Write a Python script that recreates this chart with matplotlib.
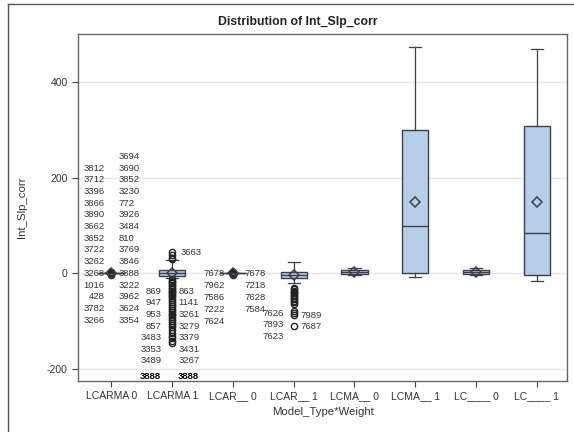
import matplotlib
matplotlib.use("Agg")
import matplotlib.pyplot as plt
from matplotlib.lines import Line2D

plt.rcParams["font.family"] = ["Liberation Sans", "DejaVu Sans"]

# ---- data -------------------------------------------------------------
categories = ["LCARMA 0", "LCARMA 1", "LCAR__ 0", "LCAR__ 1",
              "LCMA__ 0", "LCMA__ 1", "LC____ 0", "LC____ 1"]
q1 =     [0, -6, 0, -10, -2, 0, -2, -4]
median = [0, 0, 0, -4, 3, 98, 3, 84]
q3 =     [0, 8, 0, 2, 8, 300, 8, 309]
whislo = [0, -10, 0, -21, -4, -8, -4, -15]
whishi = [0, 27, 0, 23, 12, 474, 12, 468]
means =  [0, 0, 0, -4, 3, 150, 3, 150]
fliers = [
    [-3, -2, -1, 0, 1, 2, 3],
    [44, 38, 33, 30,
     -12, -15, -18, -21, -24, -27, -30, -33, -36, -39, -42, -45, -48,
     -52, -56, -60, -64, -68, -72, -76, -80, -84, -88, -92, -96,
     -100, -104, -108, -112, -118, -124, -130, -136, -142, -146],
    [-3, -2, -1, 0, 1, 2, 3],
    [-30, -33, -36, -39, -42, -45, -48, -51, -54, -57, -60, -63,
     -78, -82, -86, -110],
    [], [], [], [],
]

# outlier id labels
lcarma0_left = ["3812", "3712", "3396", "3866", "3890", "3662", "3652",
                "3722", "3262", "3268", "1016", "428", "3782", "3266"]
lcarma0_right = ["3694", "3690", "3852", "3230", "772", "3926", "3484",
                 "810", "3769", "3846", "3888", "3222", "3962", "3624",
                 "3354"]
lcarma1_top = ["3663"]
lcarma1_left = ["869", "947", "953", "857", "3483", "3353", "3489"]
lcarma1_right = ["863", "1141", "3261", "3279", "3379", "3431", "3267"]
lcarma1_bottom = ["3888", "3888"]
lcar0_left = ["7678", "7962", "7586", "7222", "7624"]
lcar0_right = ["7678", "7218", "7628", "7584"]
lcar1_left = ["7626", "7893", "7623"]
lcar1_right = ["7989", "7687"]

# ---- figure -----------------------------------------------------------
fig = plt.figure(figsize=(5.74, 4.32), dpi=100)
ax = fig.add_axes([0.136, 0.118, 0.852, 0.803])

stats = []
for i, c in enumerate(categories):
    stats.append(dict(label=c, q1=q1[i], med=median[i], q3=q3[i],
                      whislo=whislo[i], whishi=whishi[i], mean=means[i],
                      fliers=fliers[i]))

edge = "#3a3f4a"
ax.bxp(stats, positions=range(len(categories)), widths=0.43,
       patch_artist=True, showmeans=True, showfliers=True,
       boxprops=dict(facecolor="#b8cfe9", edgecolor=edge, linewidth=1.0),
       medianprops=dict(color=edge, linewidth=1.0),
       whiskerprops=dict(color=edge, linewidth=0.9),
       capprops=dict(color=edge, linewidth=0.9),
       meanprops=dict(marker="D", markerfacecolor="none",
                      markeredgecolor=edge, markersize=5.5,
                      markeredgewidth=1.1),
       flierprops=dict(marker="o", markerfacecolor="none",
                       markeredgecolor="#222222", markersize=4.5,
                       markeredgewidth=1.0),
       capwidths=0.2)

ax.set_xlim(-0.55, 7.5)
ax.set_ylim(-225, 500)
ax.set_yticks([-200, 0, 200, 400])
ax.set_yticklabels(["-200", "0", "200", "400"])
ax.yaxis.grid(True, color="#e6e6e6", linewidth=1.0)
ax.set_axisbelow(True)
ax.tick_params(axis="both", labelsize=7.5, colors="#444444", length=4,
               width=0.8, labelcolor="#333333")
for s in ax.spines.values():
    s.set_color("#666666")
    s.set_linewidth(1.0)

ax.set_xlabel("Model_Type*Weight", fontsize=8.2, color="#333333",
              labelpad=4)
ax.set_ylabel("Int_Slp_corr", fontsize=8.2, color="#333333", labelpad=14)
fig.text(298 / 574, 1 - 22 / 432, "Distribution of Int_Slp_corr",
         fontsize=8.8, fontweight="bold", color="#222222",
         ha="center", va="center")

# ---- outlier labels -----------------------------------------------------
PX = 72 / 100.0  # points per pixel
lab_kw = dict(fontsize=6.8, color="#333333", textcoords="offset points",
              va="center", annotation_clip=False)


def stack(labels, xpos, yval, dx_px, first_px, step_px, ha, **extra):
    for k, t in enumerate(labels):
        dy = -(first_px + k * step_px)
        ax.annotate(t, (xpos, yval), xytext=(dx_px * PX, dy * PX), ha=ha,
                    **{**lab_kw, **extra})


stack(lcarma0_left, 0, 0, -7, -9 * 11.7, 11.7, "right")
stack(lcarma0_right, 0, 0, 7, -10 * 11.7, 11.7, "left")
stack(lcarma1_top, 1, 44, 8, 0, 0, "left")
stack(lcarma1_left, 1, 0, -11, 18, 11.6, "right")
stack(lcarma1_right, 1, 0, 6, 18, 11.6, "left")
stack(lcarma1_bottom[:1], 1, 0, -11, 18 + 7.3 * 11.6, 0, "right",
      fontweight="bold", color="#000000")
stack(lcarma1_bottom[1:], 1, 0, 6, 18 + 7.3 * 11.6, 0, "left",
      fontweight="bold", color="#000000")
stack(lcar0_left, 2, 0, -8, 0, 12, "right")
stack(lcar0_right, 2, 0, 11, 0, 12, "left")
stack(lcar1_left, 3, 0, -10, 40, 11.6, "right")
stack(lcar1_right, 3, 0, 7, 42, 11.6, "left")

# thin border around the whole graphic
fig.add_artist(Line2D([8 / 574, 1.0], [1 - 4 / 432, 1 - 4 / 432],
                      transform=fig.transFigure, color="#555555", lw=1.0))
fig.add_artist(Line2D([8 / 574, 8 / 574], [0.0, 1 - 4 / 432],
                      transform=fig.transFigure, color="#555555", lw=1.0))

fig.savefig("out.png", dpi=100)
